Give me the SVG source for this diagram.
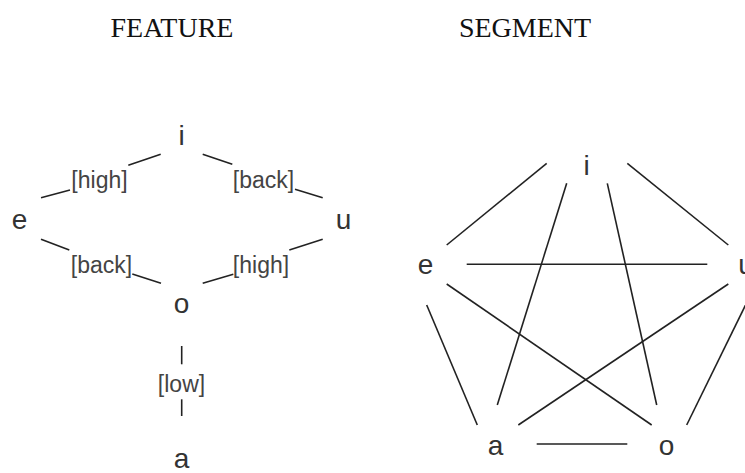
<svg xmlns="http://www.w3.org/2000/svg" width="745" height="473" viewBox="0 0 745 473">
<style>
.title{font-family:"Liberation Serif","Times New Roman",serif;font-size:28px;fill:#111;text-anchor:middle}
.node{font-family:"Liberation Sans",Arial,sans-serif;font-size:28px;fill:#333;text-anchor:middle}
.lbl{font-family:"Liberation Sans",Arial,sans-serif;font-size:23px;fill:#444;text-anchor:middle}
.edge line{stroke:#222;stroke-width:1.6;fill:none}
</style>
<rect width="745" height="473" fill="#fff"/>
<text class="title" x="172" y="37">FEATURE</text>
<text class="title" x="525" y="37">SEGMENT</text>

<g id="feature-edges" class="edge">
<line x1="160.7" y1="154.3" x2="128.3" y2="165.3"/>
<line x1="70" y1="190" x2="41" y2="197.7"/>
<line x1="202.7" y1="154.3" x2="232.3" y2="164.3"/>
<line x1="295" y1="189.3" x2="322.7" y2="197.7"/>
<line x1="41" y1="239.3" x2="69.3" y2="250"/>
<line x1="132.3" y1="274" x2="161" y2="283.3"/>
<line x1="322.7" y1="239.3" x2="289.3" y2="250"/>
<line x1="233.3" y1="274.3" x2="202.7" y2="283.3"/>
<line x1="181.7" y1="346" x2="181.7" y2="364.3"/>
<line x1="181.7" y1="399.3" x2="181.7" y2="416"/>
<text class="lbl" x="99.5" y="188">[high]</text>
<text class="lbl" x="263.5" y="188">[back]</text>
<text class="lbl" x="101.5" y="273">[back]</text>
<text class="lbl" x="261" y="273">[high]</text>
<text class="lbl" x="181.5" y="392">[low]</text>
</g>
<g id="f-i"><text class="node" x="181.5" y="145">i</text></g>
<g id="f-e"><text class="node" x="19.5" y="229">e</text></g>
<g id="f-u"><text class="node" x="343.5" y="229">u</text></g>
<g id="f-o"><text class="node" x="181.5" y="313">o</text></g>
<g id="f-a"><text class="node" x="181.5" y="468">a</text></g>

<g id="segment-edges" class="edge">
<line x1="546.7" y1="163.3" x2="446.7" y2="245"/>
<line x1="627.3" y1="163.3" x2="728.3" y2="245"/>
<line x1="566.7" y1="183.3" x2="497.3" y2="405"/>
<line x1="607.3" y1="183.3" x2="656.7" y2="405"/>
<line x1="466.7" y1="264.3" x2="707.3" y2="264.3"/>
<line x1="446.7" y1="284" x2="651.7" y2="425"/>
<line x1="728.3" y1="284" x2="518.3" y2="425"/>
<line x1="426.7" y1="305" x2="477.3" y2="425"/>
<line x1="748" y1="300" x2="686.7" y2="425"/>
<line x1="536.7" y1="444" x2="627.3" y2="444"/>
</g>
<g id="s-i"><text class="node" x="586.5" y="175">i</text></g>
<g id="s-e"><text class="node" x="425.5" y="274">e</text></g>
<g id="s-u"><text class="node" x="746" y="274">u</text></g>
<g id="s-a"><text class="node" x="495.5" y="455">a</text></g>
<g id="s-o"><text class="node" x="666.5" y="455">o</text></g>
</svg>
